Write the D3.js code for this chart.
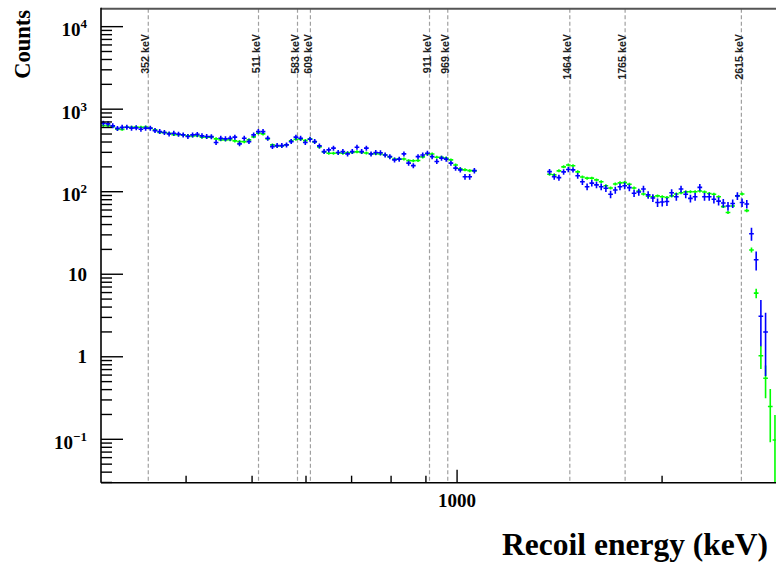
<!DOCTYPE html>
<html>
<head>
<meta charset="utf-8">
<script src="https://cdn.jsdelivr.net/npm/d3@7/dist/d3.min.js"></script>
<style>
body { margin: 0; background: #fff; }
svg { display: block; }
.axis-title, .tick-label { font-family: "Liberation Serif", "Times New Roman", serif; font-weight: bold; fill: #000; }
.peak-label { font-family: "Liberation Sans", Arial, sans-serif; font-size: 10.7px; font-weight: bold; fill: #222; }
</style>
</head>
<body>
<div id="chart"></div>
<script>
// histogram binning: log bins between binLow and binHigh (keV)
var binLow = 300, binHigh = 3000, binCount = 145;

// green series (bin contents, null = empty bin)
var greenCounts = [
    633, 630, 615, 572, 570, 605, 603, 606, 604, 607,
    588, 561, 521, 520, 509, 492, 491, 488, 475, 474,
    476, 458, 457, 459, 437, 425, 424, 426, 413, 405,
    404, 425, 462, 512, 502, 437, 369, 359, 358, 370,
    413, 433, 432, 416, 437, 402, 349, 304, 293, 292,
    294, 293, 296, 298, 304, 298, 295, 287, 288, 286,
    279, 264, 248, 247, 249, 238, 237, 239, 264, 287,
    286, 262, 261, 255, 243, 211, 189, 184, 180, 179,
    null, null, null, null, null, null, null, null, null, null,
    null, null, null, null, null, 163, 160, 179, 200, 211,
    206, 174, 151, 146, 146, 139, 132, 118, 111, 124,
    128, 129, 123, 111, 102, 94, 88, 87, 89, 87,
    85, 89, 94, 97, 99.5, 100, 100, 102, 99, 95,
    93, 87, 66, 56, 67, 89, 94, 59, 19.7, 5.9,
    1.03, 0.55, 0.25, 0.098, null
];
// blue series
var blueCounts = [
    677, 664, 628, 585, 602, 605, 589, 594, 572, 589,
    589, 550, 535, 521, 502, 512, 498, 488, 466, 488,
    495, 475, 466, 465, 394, 445, 437, 445, 458, 380,
    445, 405, 488, 535, 535, 445, 352, 362, 362, 369,
    405, 458, 445, 394, 433, 405, 359, 306, 321, 337,
    298, 306, 287, 306, 346, 306, 337, 287, 298, 297,
    279, 266, 243, 248, 287, 222, 207, 266, 279, 293,
    266, 232, 255, 248, 222, 193, 184, 152, 152, 180,
    null, null, null, null, null, null, null, null, null, null,
    null, null, null, null, null, 175, 152, 148, 174, 186,
    184, 156, 132, 115, 127, 121, 115, 110, 93, 105,
    115, 118, 112, 96, 99, 108, 91.5, 84, 74, 75,
    76, 97, 87, 108, 93, 83, 87, 113, 87, 87,
    81, 77, 73, 67, 72, 89, 74, 71, 31, 15,
    3.1, 2.0, null, null, null
];
// statistical weight used for the error bars: err = sqrt(w * n)
var greenWeight = 0.1;
var blueWeight = 1.0;

var peakEnergies = [352, 511, 583, 609, 911, 969, 1464, 1765, 2615];
var peakLabels = ["352 keV", "511 keV", "583 keV", "609 keV", "911 keV", "969 keV", "1464 keV", "1765 keV", "2615 keV"];

var yTickValues = [0.1, 1, 10, 100, 1000, 10000];
var yTickBases = ["10", "1", "10", "10", "10", "10"];
var yTickExps = ["\u22121", "", "", "2", "3", "4"];
var xTickValues = [1000];
var xTickLabels = ["1000"];
var xMinorValues = [400, 500, 600, 700, 800, 900, 2000, 3000];

var width = 776, height = 562;
var plotLeft = 101, plotRight = 782, plotTop = 8.7, plotBottom = 482.7;

var svg = d3.select("#chart").append("svg").attr("width", width).attr("height", height);
var x = d3.scaleLog().domain([binLow, binHigh]).range([plotLeft, plotRight]);
var y = d3.scaleLog().domain([0.0298, 16500]).range([plotBottom, plotTop]);

function BinEdge(i) {
    return binLow * Math.pow(binHigh / binLow, i / binCount);
}

svg.append("clipPath").attr("id", "plot-clip")
    .append("rect").attr("x", plotLeft).attr("y", plotTop)
    .attr("width", plotRight - plotLeft).attr("height", plotBottom - plotTop);

var plot = svg.append("g").attr("clip-path", "url(#plot-clip)");

// dashed lines for the gamma peaks
plot.selectAll(".peak-line").data(peakEnergies).enter().append("line")
    .attr("class", "peak-line")
    .attr("x1", function(d) { return x(d); }).attr("x2", function(d) { return x(d); })
    .attr("y1", plotTop).attr("y2", plotBottom)
    .style("stroke", "#a0a0a0").style("stroke-width", 1.2).style("stroke-dasharray", "4,2.5");

function DrawSeries(counts, weight, color, minHalf) {
    var g = plot.append("g").style("stroke", color).style("stroke-width", 1.6).style("fill", "none");
    counts.forEach(function(v, i) {
        if (v == null) return;
        var lo = BinEdge(i), hi = BinEdge(i + 1), mid = (lo + hi) / 2;
        var err = Math.sqrt(weight * v);
        var yv = y(v);
        var yTop = Math.min(y(v + err), yv - minHalf);
        var yBot = (v - err > 0) ? Math.max(y(v - err), yv + minHalf) : plotBottom;
        g.append("line").attr("x1", x(lo)).attr("x2", x(hi)).attr("y1", yv).attr("y2", yv);
        g.append("line").attr("x1", x(mid)).attr("x2", x(mid)).attr("y1", yTop).attr("y2", yBot);
    });
}
DrawSeries(greenCounts, greenWeight, "#00ff00", 1.5);
DrawSeries(blueCounts, blueWeight, "#0000ff", 2.5);

// peak labels
peakEnergies.forEach(function(e, i) {
    svg.append("text").attr("class", "peak-label")
        .attr("transform", "translate(" + (x(e) + 1.2) + ",34) rotate(-90)")
        .attr("text-anchor", "end")
        .text(peakLabels[i]);
});

// frame
svg.append("line").attr("x1", plotLeft).attr("x2", plotRight).attr("y1", plotTop).attr("y2", plotTop)
    .style("stroke", "#555").style("stroke-width", 2);
svg.append("line").attr("x1", plotLeft).attr("x2", plotLeft).attr("y1", plotTop - 1).attr("y2", plotBottom)
    .style("stroke", "#000").style("stroke-width", 1.6);
svg.append("line").attr("x1", plotLeft).attr("x2", plotRight).attr("y1", plotBottom).attr("y2", plotBottom)
    .style("stroke", "#000").style("stroke-width", 1.6);

// y ticks
var yAxis = svg.append("g").style("stroke", "#000").style("stroke-width", 1.4);
yTickValues.forEach(function(v) {
    yAxis.append("line").attr("x1", plotLeft).attr("x2", plotLeft + 22).attr("y1", y(v)).attr("y2", y(v));
    for (var m = 2; m <= 9; m++) {
        var mv = v * m;
        if (mv > y.domain()[1]) break;
        yAxis.append("line").attr("x1", plotLeft).attr("x2", plotLeft + 11).attr("y1", y(mv)).attr("y2", y(mv));
    }
});
[0.03, 0.04, 0.05, 0.06, 0.07, 0.08, 0.09].forEach(function(mv) {
    if (mv < y.domain()[0]) return;
    yAxis.append("line").attr("x1", plotLeft).attr("x2", plotLeft + 11).attr("y1", y(mv)).attr("y2", y(mv));
});

yTickValues.forEach(function(v, i) {
    var t = svg.append("text").attr("class", "tick-label").attr("text-anchor", "end")
        .attr("x", 87).style("font-size", "19px");
    if (yTickExps[i]) {
        t.attr("y", y(v) + 9.5);
        t.append("tspan").text(yTickBases[i]);
        t.append("tspan").attr("dy", -8).style("font-size", "13px").text(yTickExps[i]);
    } else {
        t.attr("y", y(v) + 6.5).text(yTickBases[i]);
    }
});

// x ticks
var xAxis = svg.append("g").style("stroke", "#000").style("stroke-width", 1.4);
xTickValues.forEach(function(v) {
    xAxis.append("line").attr("x1", x(v)).attr("x2", x(v)).attr("y1", plotBottom).attr("y2", plotBottom - 13);
});
xMinorValues.forEach(function(v) {
    xAxis.append("line").attr("x1", x(v)).attr("x2", x(v)).attr("y1", plotBottom).attr("y2", plotBottom - 7);
});
xTickValues.forEach(function(v, i) {
    svg.append("text").attr("class", "tick-label").attr("text-anchor", "middle")
        .attr("x", x(v)).attr("y", 506.7).style("font-size", "19px").text(xTickLabels[i]);
});

// axis titles
svg.append("text").attr("class", "axis-title").attr("text-anchor", "end")
    .attr("x", 768).attr("y", 555).style("font-size", "31.5px").text("Recoil energy (keV)");
svg.append("text").attr("class", "axis-title").attr("text-anchor", "end")
    .attr("transform", "translate(29.5,10) rotate(-90)").style("font-size", "22.5px").text("Counts");
</script>
</body>
</html>
